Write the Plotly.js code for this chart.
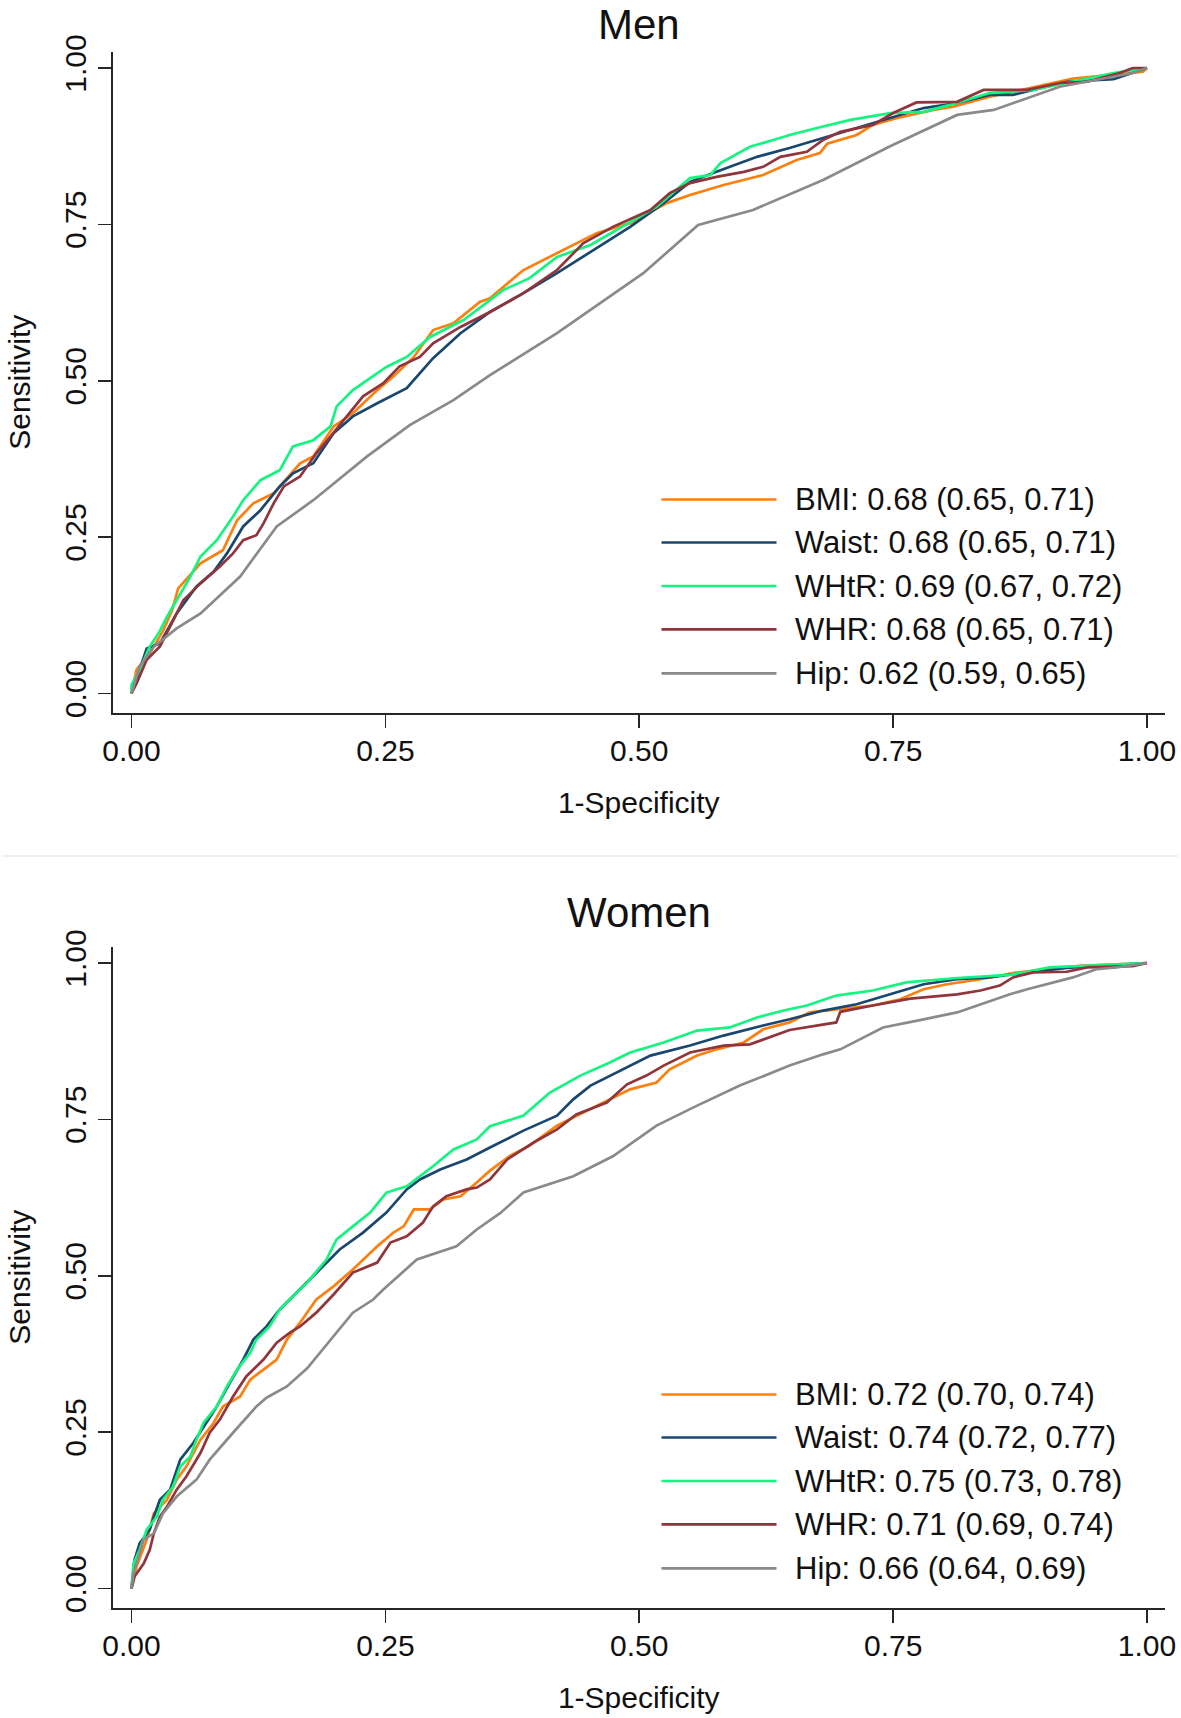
<!DOCTYPE html>
<html>
<head>
<meta charset="utf-8">
<script src="https://cdn.plot.ly/plotly-3.0.1.min.js"></script>
<style>
html,body{margin:0;padding:0;background:#ffffff;}
#chart{width:1181px;height:1718px;}
</style>
</head>
<body>
<div id="chart"></div>
<script>
// ---------------- DATA ----------------
const measures = ['BMI', 'Waist', 'WHtR', 'WHR', 'Hip'];
const panelTitles = ['Men', 'Women'];
const aucMen   = ['0.68 (0.65, 0.71)', '0.68 (0.65, 0.71)', '0.69 (0.67, 0.72)', '0.68 (0.65, 0.71)', '0.62 (0.59, 0.65)'];
const aucWomen = ['0.72 (0.70, 0.74)', '0.74 (0.72, 0.77)', '0.75 (0.73, 0.78)', '0.71 (0.69, 0.74)', '0.66 (0.64, 0.69)'];
const tickVals = [0, 0.25, 0.5, 0.75, 1];
const tickText = ['0.00', '0.25', '0.50', '0.75', '1.00'];
const xTitle = '1-Specificity';
const yTitle = 'Sensitivity';

// Men
const menBmiX   = [0,0.005,0.018,0.031,0.040,0.046,0.068,0.090,0.104,0.120,0.140,0.166,0.179,0.199,0.218,0.242,0.258,0.278,0.297,0.317,0.343,0.353,0.386,0.422,0.458,0.491,0.527,0.550,0.583,0.622,0.655,0.678,0.685,0.714,0.730,0.754,0.790,0.809,0.845,0.927,0.996,1];
const menBmiY   = [0,0.038,0.064,0.100,0.133,0.168,0.208,0.229,0.277,0.304,0.320,0.368,0.379,0.427,0.448,0.485,0.507,0.538,0.581,0.592,0.626,0.632,0.677,0.706,0.736,0.752,0.784,0.797,0.813,0.829,0.853,0.864,0.879,0.893,0.909,0.920,0.933,0.938,0.954,0.983,0.994,1];
const menWaistX = [0,0.015,0.028,0.0445,0.064,0.081,0.094,0.110,0.127,0.146,0.159,0.179,0.199,0.218,0.242,0.271,0.297,0.324,0.353,0.386,0.419,0.458,0.491,0.524,0.550,0.576,0.616,0.648,0.681,0.714,0.747,0.780,0.813,0.845,0.868,0.921,0.967,0.986,1];
const menWaistY = [0,0.072,0.080,0.128,0.171,0.195,0.224,0.267,0.293,0.331,0.352,0.368,0.416,0.443,0.464,0.488,0.536,0.576,0.610,0.640,0.672,0.712,0.746,0.784,0.818,0.834,0.858,0.872,0.888,0.904,0.920,0.936,0.944,0.957,0.957,0.978,0.982,0.992,1];
const menWhtrX  = [0,0,0.008,0.018,0.028,0.035,0.0445,0.058,0.068,0.084,0.100,0.110,0.127,0.146,0.159,0.179,0.196,0.202,0.218,0.232,0.251,0.271,0.294,0.327,0.346,0.366,0.392,0.419,0.452,0.491,0.517,0.550,0.570,0.580,0.609,0.632,0.648,0.675,0.708,0.747,0.780,0.806,0.845,0.888,0.967,1];
const menWhtrY  = [0,0.014,0.038,0.075,0.100,0.123,0.149,0.187,0.219,0.245,0.283,0.309,0.341,0.357,0.395,0.405,0.427,0.459,0.485,0.501,0.522,0.538,0.570,0.597,0.621,0.645,0.664,0.698,0.717,0.754,0.778,0.824,0.829,0.848,0.874,0.885,0.893,0.904,0.917,0.928,0.930,0.941,0.960,0.965,0.992,1];
const menWhrX   = [0,0.005,0.015,0.028,0.038,0.051,0.068,0.087,0.100,0.110,0.123,0.130,0.140,0.150,0.166,0.182,0.196,0.212,0.228,0.248,0.264,0.284,0.297,0.324,0.353,0.386,0.419,0.445,0.474,0.511,0.530,0.550,0.576,0.603,0.622,0.639,0.665,0.681,0.698,0.730,0.750,0.773,0.813,0.839,0.882,0.914,0.941,0.973,0.986,1];
const menWhrY   = [0,0.016,0.054,0.075,0.107,0.149,0.176,0.203,0.224,0.245,0.253,0.272,0.304,0.331,0.347,0.384,0.411,0.443,0.475,0.496,0.523,0.538,0.560,0.586,0.610,0.640,0.677,0.720,0.746,0.773,0.800,0.816,0.826,0.834,0.842,0.858,0.866,0.885,0.898,0.909,0.928,0.945,0.946,0.965,0.965,0.976,0.978,0.992,1.0,1];
const menHipX   = [0,0.008,0.022,0.0445,0.068,0.107,0.143,0.179,0.232,0.274,0.317,0.353,0.419,0.504,0.558,0.612,0.681,0.747,0.813,0.849,0.914,0.941,0.986,1];
const menHipY   = [0,0.043,0.075,0.104,0.128,0.187,0.267,0.309,0.379,0.429,0.469,0.509,0.576,0.672,0.749,0.773,0.821,0.875,0.925,0.933,0.970,0.978,0.992,1];

// Women
const womenBmiX   = [0,0.005,0.015,0.022,0.035,0.0445,0.054,0.068,0.081,0.090,0.107,0.117,0.130,0.143,0.153,0.166,0.182,0.199,0.218,0.242,0.258,0.268,0.278,0.294,0.307,0.324,0.340,0.353,0.373,0.392,0.419,0.445,0.471,0.491,0.517,0.530,0.557,0.576,0.603,0.622,0.648,0.668,0.694,0.730,0.757,0.780,0.803,0.836,0.868,0.937,1];
const womenBmiY   = [0,0.035,0.078,0.120,0.142,0.174,0.195,0.238,0.265,0.291,0.307,0.334,0.350,0.366,0.398,0.425,0.462,0.483,0.510,0.547,0.569,0.579,0.606,0.606,0.622,0.627,0.649,0.668,0.692,0.708,0.740,0.761,0.782,0.798,0.809,0.830,0.852,0.862,0.873,0.894,0.905,0.921,0.926,0.932,0.942,0.958,0.966,0.974,0.984,0.996,1];
const womenWaistX = [0,0.003,0.008,0.018,0.022,0.028,0.038,0.048,0.061,0.074,0.084,0.097,0.110,0.120,0.133,0.146,0.166,0.186,0.205,0.228,0.251,0.271,0.284,0.304,0.330,0.353,0.386,0.419,0.435,0.452,0.478,0.511,0.550,0.583,0.622,0.648,0.681,0.714,0.747,0.780,0.813,0.845,0.868,0.921,0.980,1];
const womenWaistY = [0,0.046,0.072,0.094,0.115,0.142,0.158,0.206,0.233,0.265,0.291,0.329,0.366,0.398,0.419,0.446,0.478,0.510,0.542,0.569,0.601,0.638,0.654,0.670,0.686,0.705,0.732,0.756,0.782,0.804,0.825,0.852,0.868,0.884,0.900,0.910,0.924,0.934,0.950,0.966,0.974,0.977,0.982,0.992,0.998,1];
const womenWhtrX  = [0,0.002,0.008,0.015,0.025,0.031,0.041,0.048,0.058,0.064,0.071,0.084,0.094,0.104,0.117,0.123,0.136,0.146,0.156,0.173,0.192,0.202,0.218,0.235,0.251,0.271,0.297,0.317,0.340,0.353,0.386,0.412,0.442,0.471,0.491,0.524,0.557,0.589,0.616,0.642,0.665,0.694,0.730,0.763,0.813,0.865,0.904,1];
const womenWhtrY  = [0,0.040,0.062,0.094,0.115,0.142,0.163,0.195,0.211,0.238,0.265,0.291,0.323,0.350,0.377,0.398,0.419,0.446,0.462,0.489,0.526,0.558,0.579,0.601,0.633,0.643,0.675,0.702,0.718,0.739,0.756,0.793,0.820,0.841,0.857,0.873,0.892,0.897,0.913,0.924,0.932,0.948,0.956,0.969,0.976,0.981,0.993,1];
const womenWhrX   = [0,0.003,0.012,0.018,0.022,0.028,0.035,0.0445,0.054,0.068,0.077,0.087,0.100,0.113,0.130,0.143,0.156,0.166,0.182,0.199,0.218,0.242,0.255,0.271,0.287,0.297,0.310,0.330,0.340,0.353,0.370,0.396,0.419,0.438,0.468,0.488,0.507,0.524,0.550,0.583,0.609,0.632,0.648,0.694,0.698,0.730,0.767,0.813,0.836,0.855,0.868,0.888,0.921,0.941,0.986,1];
const womenWhrY   = [0,0.019,0.040,0.062,0.088,0.115,0.131,0.158,0.179,0.217,0.249,0.270,0.307,0.339,0.366,0.393,0.409,0.419,0.441,0.470,0.505,0.521,0.553,0.563,0.585,0.611,0.627,0.638,0.641,0.654,0.686,0.713,0.734,0.758,0.777,0.806,0.820,0.836,0.857,0.868,0.870,0.884,0.893,0.905,0.922,0.932,0.943,0.950,0.956,0.964,0.977,0.985,0.986,0.993,0.995,1];
const womenHipX   = [0,0.002,0.012,0.022,0.031,0.0445,0.064,0.077,0.100,0.123,0.133,0.153,0.173,0.199,0.218,0.238,0.248,0.281,0.320,0.340,0.363,0.386,0.435,0.474,0.517,0.557,0.599,0.648,0.681,0.698,0.740,0.780,0.813,0.865,0.882,0.927,0.950,0.970,1];
const womenHipY   = [0,0.024,0.078,0.088,0.120,0.147,0.174,0.206,0.249,0.291,0.305,0.323,0.352,0.403,0.441,0.462,0.478,0.526,0.547,0.574,0.600,0.633,0.659,0.691,0.740,0.772,0.804,0.836,0.854,0.862,0.897,0.910,0.921,0.950,0.958,0.977,0.990,0.993,1];

// ---------------- STYLE ----------------
const lineColors = ['#ff7f0e', '#1a476f', '#14f57f', '#90353b', '#8a8a8a'];
const FONT = '"Liberation Sans", Arimo, Arial, Helvetica, sans-serif';
const W = 1181, H = 1718;
const pxX = v => v / W;
const pxY = v => 1 - v / H;

const panels = [
  {xs:[menBmiX, menWaistX, menWhtrX, menWhrX, menHipX], ys:[menBmiY, menWaistY, menWhtrY, menWhrY, menHipY], auc: aucMen, xa:'x', ya:'y', off:0},
  {xs:[womenBmiX, womenWaistX, womenWhtrX, womenWhrX, womenHipX], ys:[womenBmiY, womenWaistY, womenWhtrY, womenWhrY, womenHipY], auc: aucWomen, xa:'x2', ya:'y2', off:895}
];

const traces = [];
const shapes = [];
const annotations = [];
const legendRowY = [499.5, 542.5, 586, 629.3, 673.3];

panels.forEach((p, pi) => {
  measures.forEach((m, i) => {
    traces.push({
      type: 'scatter', mode: 'lines',
      x: p.xs[i], y: p.ys[i],
      xaxis: p.xa, yaxis: p.ya,
      name: m + ': ' + p.auc[i],
      showlegend: false,
      line: {color: lineColors[i], width: 2.7},
      hoverinfo: 'skip'
    });
    const ly = pxY(legendRowY[i] + p.off);
    shapes.push({type:'line', xref:'paper', yref:'paper', x0: pxX(661.5), x1: pxX(776.5), y0: ly, y1: ly,
      line:{color: lineColors[i], width: 2.7}});
    annotations.push({xref:'paper', yref:'paper', x: pxX(792.5), y: ly, xanchor:'left', yanchor:'middle',
      text: m + ': ' + p.auc[i], showarrow:false, font:{family:FONT, size:31, color:'#111111'}});
  });
});

// panel titles
annotations.push({xref:'paper', yref:'paper', x: pxX(638.5), y: 1, xanchor:'center', yanchor:'top', borderpad:0,
  text: panelTitles[0], showarrow:false, font:{family:FONT, size:42, color:'#111111'}});
annotations.push({xref:'paper', yref:'paper', x: pxX(638.5), y: pxY(912.5), xanchor:'center', yanchor:'middle',
  text: panelTitles[1], showarrow:false, font:{family:FONT, size:42, color:'#111111'}});

// separator between panels
shapes.push({type:'line', xref:'paper', yref:'paper', x0: pxX(2), x1: pxX(1178), y0: pxY(856), y1: pxY(856),
  line:{color:'#e4ecef', width:1.5}});

function xAxis(anchor) {
  return {
    anchor: anchor, domain: [pxX(113), pxX(1164.5)], range: [-0.0182, 1.0172],
    showline: true, linecolor: '#262626', linewidth: 1.6,
    ticks: 'outside', ticklen: 13, tickwidth: 1.6, tickcolor: '#262626',
    tickvals: tickVals, ticktext: tickText,
    tickfont: {family: FONT, size: 30, color: '#111111'},
    ticklabelstandoff: -3,
    showgrid: false, zeroline: false, fixedrange: true, automargin: false,
    title: {text: xTitle, font: {family: FONT, size: 30, color: '#111111'}, standoff: 26}
  };
}
function yAxis(anchor, top, bottom) {
  return {
    anchor: anchor, domain: [pxY(bottom), pxY(top)], range: [-0.0312, 1.0264],
    showline: true, linecolor: '#262626', linewidth: 1.6,
    ticks: 'outside', ticklen: 13, tickwidth: 1.6, tickcolor: '#262626',
    tickvals: tickVals, ticktext: tickText, tickangle: -90,
    tickfont: {family: FONT, size: 30, color: '#111111'},
    showgrid: false, zeroline: false, fixedrange: true, automargin: false,
    title: {text: yTitle, font: {family: FONT, size: 30, color: '#111111'}, standoff: 20}
  };
}

const layout = {
  width: W, height: H, autosize: false,
  margin: {l:0, r:0, t:0, b:0, pad:0},
  paper_bgcolor: '#ffffff', plot_bgcolor: '#ffffff',
  showlegend: false,
  font: {family: FONT, color: '#111111'},
  xaxis: xAxis('y'),
  yaxis: yAxis('x', 51.5, 713),
  xaxis2: xAxis('y2'),
  yaxis2: yAxis('x2', 946.5, 1608),
  shapes: shapes,
  annotations: annotations
};

Plotly.newPlot('chart', traces, layout, {staticPlot: true, displayModeBar: false});
</script>
</body>
</html>
